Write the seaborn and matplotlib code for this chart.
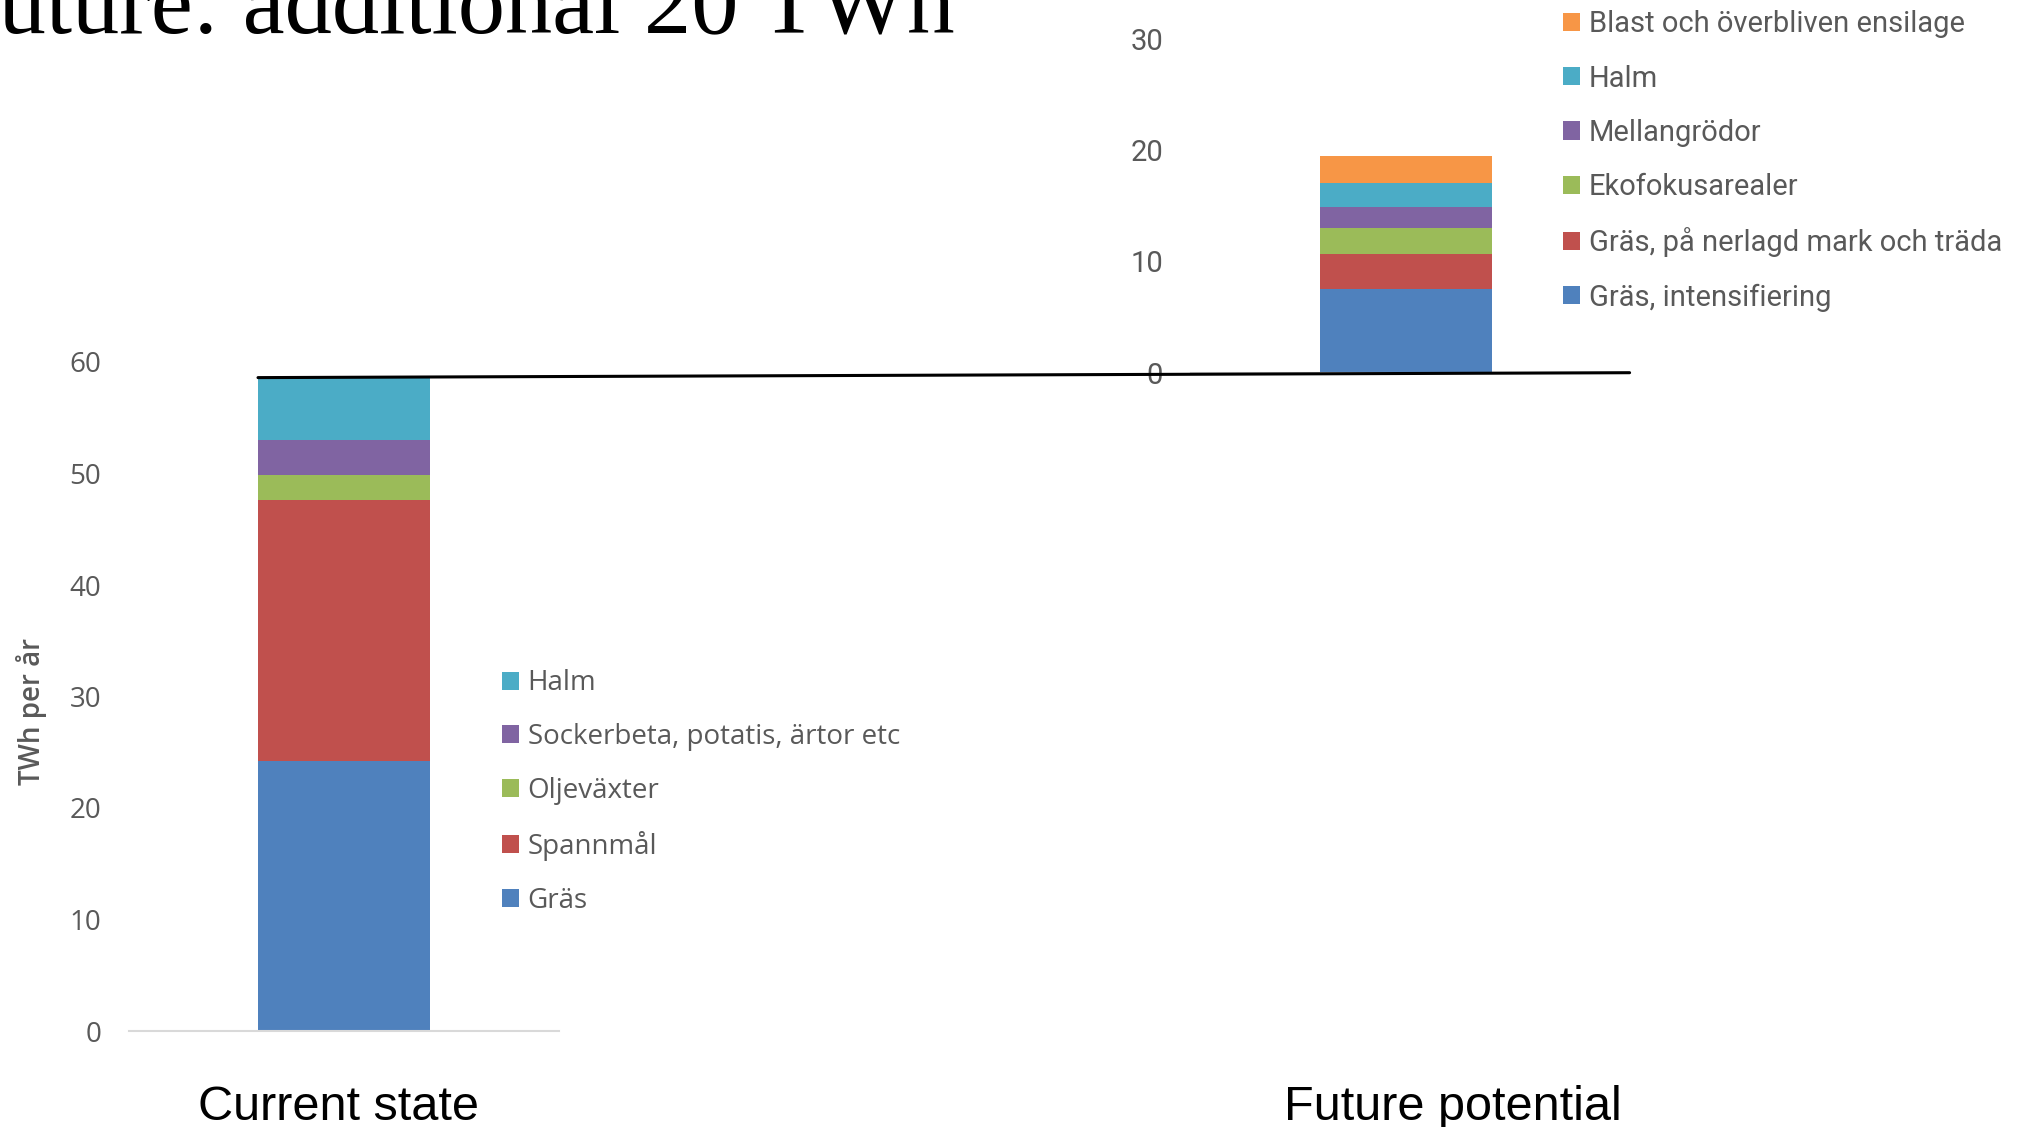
import matplotlib
matplotlib.use("Agg")
import matplotlib.pyplot as plt
import seaborn as sns
import pandas as pd
from matplotlib.patches import Patch, ConnectionPatch

# ---- data ----
current_sources = ["Gräs", "Spannmål", "Oljeväxter", "Sockerbeta, potatis, ärtor etc", "Halm"]
current_values = [24.2, 23.4, 2.3, 3.1, 5.6]
current_colors = ["#4F81BD", "#C0504D", "#9BBB59", "#8064A2", "#4BACC6"]

future_sources = ["Gräs, intensifiering", "Gräs, på nerlagd mark och träda", "Ekofokusarealer",
                  "Mellangrödor", "Halm", "Blast och överbliven ensilage"]
future_values = [7.5, 3.2, 2.3, 1.9, 2.1, 2.5]
future_colors = ["#4F81BD", "#C0504D", "#9BBB59", "#8064A2", "#4BACC6", "#F79646"]

left_ticks = [0, 10, 20, 30, 40, 50, 60]
right_ticks = [0, 10, 20, 30]
panel_labels = ["Current state", "Future potential"]
title_text = "Future: additional 20 TWh"
ylabel_text = "TWh per år"

sns.set_theme(style="white")
plt.rcParams["font.family"] = ["Open Sans", "DejaVu Sans"]

W, H = 2029, 1127
fig = plt.figure(figsize=(W / 100, H / 100), dpi=100)

def fx(px):
    return px / W

def fy(py):
    return 1 - py / H

ax1 = fig.add_axes([fx(129), fy(1031), 430 / W, 669 / H])
ax2 = fig.add_axes([fx(1191), fy(372.7), 430 / W, (372.7 - 38.8) / H])


def stacked(ax, sources, values, colors, cat):
    df = pd.DataFrame({"source": sources, "value": values})
    df["top"] = df["value"].cumsum()
    df["cat"] = cat
    # draw from the highest cumulative down so lower segments sit in front
    for i in range(len(df) - 1, -1, -1):
        sns.barplot(data=df.iloc[[i]], x="cat", y="top", color=colors[i],
                    saturation=1, width=0.4, linewidth=0, ax=ax)
    return df["top"].iloc[-1]


total_cur = stacked(ax1, current_sources, current_values, current_colors, panel_labels[0])
total_fut = stacked(ax2, future_sources, future_values, future_colors, panel_labels[1])

for ax, ticks, fs, fam in [(ax1, left_ticks, 20, ["Open Sans", "DejaVu Sans"]),
                           (ax2, right_ticks, 21, ["Roboto", "DejaVu Sans"])]:
    ax.set_xlim(-0.5, 0.5)
    ax.set_ylim(ticks[0], ticks[-1])
    ax.set_yticks(ticks)
    ax.set_yticklabels([str(t) for t in ticks], fontsize=fs, color="#595959", family=fam)
    ax.tick_params(axis="y", length=0, pad=20)
    ax.set_xticks([])
    ax.set_xlabel("")
    ax.set_ylabel("")
    for s in ["left", "right", "top"]:
        ax.spines[s].set_visible(False)
    ax.spines["bottom"].set_color("#D9D9D9")
    ax.spines["bottom"].set_linewidth(1.5)
    ax.patch.set_alpha(0)
    ax.grid(False)

ax1.set_ylabel(ylabel_text, fontsize=20, color="#595959", fontweight="semibold")
ax1.yaxis.set_label_coords(-0.19, 0.477)

# legends
h1 = [Patch(facecolor=c, edgecolor="none") for c in current_colors][::-1]
fig.legend(h1, current_sources[::-1], loc="center left",
           bbox_to_anchor=(fx(502), fy(792)), frameon=False, fontsize=20,
           handlelength=0.62, handleheight=0.62, handletextpad=0.3,
           labelspacing=0.93, borderpad=0, borderaxespad=0, labelcolor="#595959")

h2 = [Patch(facecolor=c, edgecolor="none") for c in future_colors][::-1]
fig.legend(h2, future_sources[::-1], loc="center left",
           bbox_to_anchor=(fx(1563), fy(161)), frameon=False,
           prop={"family": ["Roboto", "DejaVu Sans"], "size": 21},
           handlelength=0.58, handleheight=0.58, handletextpad=0.3,
           labelspacing=0.9, borderpad=0, borderaxespad=0, labelcolor="#595959")

# connecting line: top of current bar to zero of future chart
con = ConnectionPatch(xyA=(-0.2, total_cur), coordsA=ax1.transData,
                      xyB=(1.02, 0), coordsB=ax2.transAxes,
                      color="black", linewidth=2.2)
fig.add_artist(con)

# title (cropped at the top-left of the slide)
fig.text(fx(955), fy(32), title_text, ha="right", va="baseline",
         fontsize=68, family=["Liberation Serif", "DejaVu Serif"], color="black")

# panel labels
fig.text(fx(339), fy(1107), panel_labels[0], ha="center", va="center",
         fontsize=35, family=["Liberation Sans", "DejaVu Sans"], color="black")
fig.text(fx(1453), fy(1107), panel_labels[1], ha="center", va="center",
         fontsize=35, family=["Liberation Sans", "DejaVu Sans"], color="black")

fig.savefig("out.png", dpi=100, facecolor="white")
